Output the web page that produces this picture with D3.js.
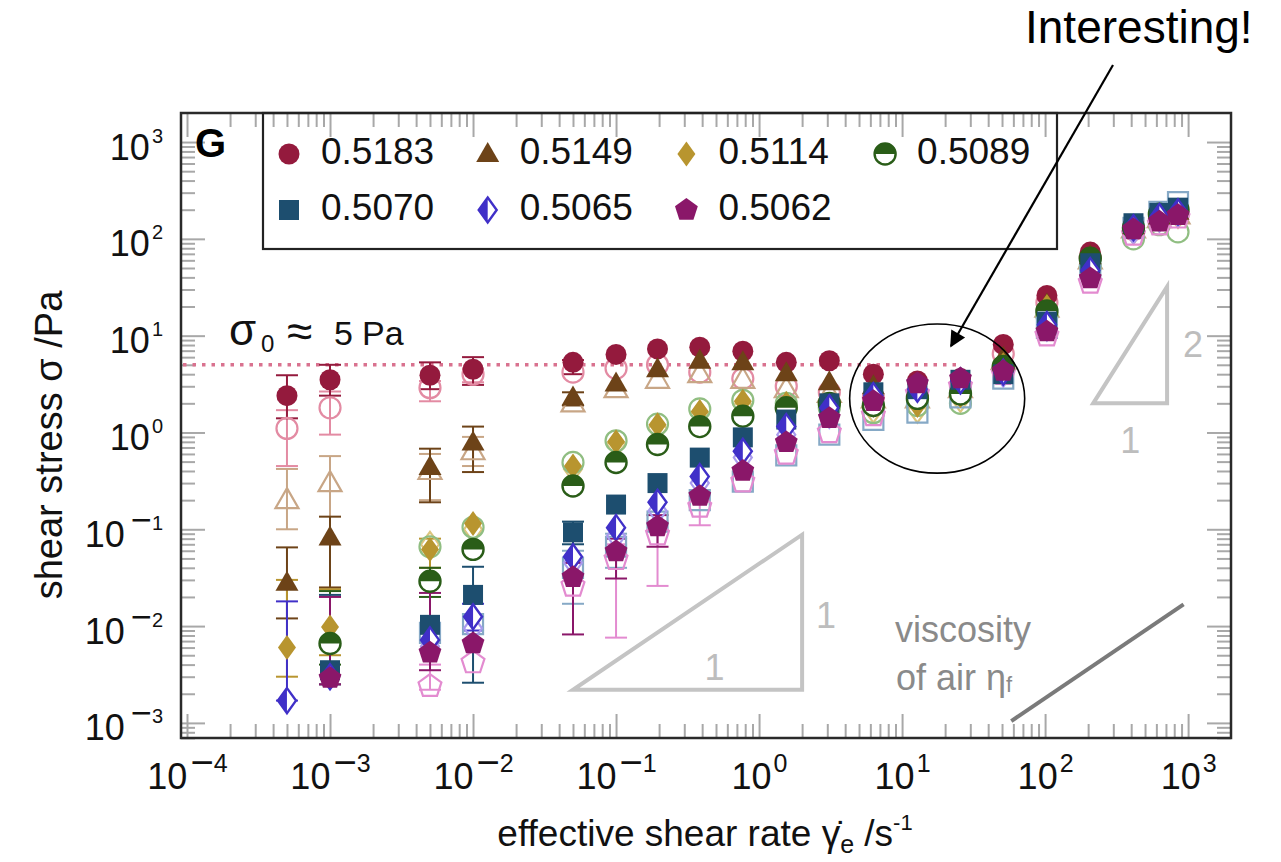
<!DOCTYPE html>
<html>
<head>
<meta charset="utf-8">
<script src="https://cdn.jsdelivr.net/npm/d3@7"></script>
<style>
  body { margin: 0; background: #fff; }
  svg text { font-family: "Liberation Sans", Arial, Helvetica, sans-serif; }
</style>
</head>
<body>
<svg id="chart" width="1281" height="862"></svg>
<script>
// shear rates (1/s) of the measurement columns
var rates = [0.0005, 0.001, 0.005, 0.01, 0.05, 0.1, 0.195, 0.385, 0.77, 1.55,
             3.1, 6.3, 12.8, 25.6, 51, 103, 207, 415, 630, 850];

// volume fractions
var phis = ["0.5183", "0.5149", "0.5114", "0.5089", "0.5070", "0.5065", "0.5062"];

// shear stress (Pa), filled symbols / open symbols
var s5183     = [2.4, 3.5, 3.9, 4.5, 5.3, 6.4, 7.3, 7.6, 6.9, 5.3, 5.5, 4.0, 3.4, 3.6, 8.1, 26, 73, 140, 175, 195];
var s5183open = [1.1, 1.8, 2.9, 4.0, 4.2, 4.6, 5.0, 4.2, 3.6, 3.0, 2.6, 2.3, 2.4, 3.0, 6.5, 22, 65, 125, 160, 180];
var s5149     = [0.028, 0.082, 0.44, 0.79, 2.3, 3.2, 4.5, 5.5, 5.3, 4.1, 3.3, 3.0, 2.9, 3.2, 5.9, 21, 66, 135, 170, 190];
var s5149open = [0.2, 0.3, 0.40, 0.64, 2.0, 2.8, 3.5, 4.0, 3.5, 2.8, 2.5, 2.2, 2.2, 2.8, 5.5, 19, 60, 125, 160, 175];
var s5114     = [0.006, 0.0098, 0.062, 0.115, 0.45, 0.8, 1.2, 1.65, 2.1, 2.0, 1.9, 1.9, 1.9, 2.4, 5.0, 20, 60, 130, 170, 185];
var s5114open = [null, null, 0.07, 0.1, 0.42, 0.75, 1.1, 1.55, 1.9, 1.85, 1.7, 1.7, 1.7, 2.2, 4.7, 18, 55, 120, 160, 175];
var s5089     = [null, 0.0066, 0.029, 0.062, 0.28, 0.49, 0.75, 1.15, 1.47, 1.8, 2.0, 1.9, 2.25, 2.5, 4.8, 18, 63, 130, 180, 200];
var s5089open = [null, null, 0.066, 0.105, 0.49, 0.82, 1.22, 1.75, 2.15, 2.0, 1.8, 1.6, 1.9, 2.0, 4.5, 16, 52, 100, 140, 118];
var s5070     = [null, 0.0035, 0.0103, 0.021, 0.093, 0.18, 0.3, 0.55, 0.89, 1.36, 2.0, 2.6, 2.8, 3.5, 4.0, 14, 56, 145, 185, 210];
var s5070open = [null, null, 0.0085, 0.0105, 0.04, 0.066, 0.12, 0.2, 0.31, 0.58, 0.95, 1.35, 1.6, 2.3, 3.6, 12, 50, 130, 190, 240];
var s5065     = [0.0017, 0.003, 0.0072, 0.0125, 0.052, 0.104, 0.19, 0.35, 0.64, 1.15, 1.8, 2.4, 2.8, 3.4, 4.2, 13, 47, 130, 170, 190];
var s5065open = [null, null, 0.0062, 0.0095, 0.045, 0.085, 0.155, 0.3, 0.55, 0.95, 1.5, 2.0, 2.4, 3.0, 4.0, 12, 45, 120, 160, 180];
var s5062     = [null, 0.0029, 0.0053, 0.0066, 0.032, 0.059, 0.107, 0.22, 0.4, 0.79, 1.4, 2.1, 3.2, 3.6, 4.3, 11, 39, 125, 150, 175];
var s5062open = [null, null, 0.0024, 0.0042, 0.026, 0.049, 0.088, 0.17, 0.31, 0.6, 1.0, 1.5, 2.5, 3.0, 4.0, 10, 35, 110, 140, 165];

// error bars: [rate, low, high]
var err5183     = [[0.0005, 1.4, 3.9], [0.001, 2.4, 5.0], [0.005, 2.8, 5.3], [0.01, 3.1, 6.0], [0.05, 4.0, 5.6]];
var err5183open = [[0.0005, 0.45, 1.7], [0.001, 0.95, 2.65], [0.005, 2.1, 3.4], [0.01, 3.3, 4.6]];
var err5149     = [[0.0005, 0.012, 0.065], [0.001, 0.025, 0.135], [0.005, 0.19, 0.68], [0.01, 0.39, 1.15], [0.05, 1.9, 2.6]];
var err5149open = [[0.0005, 0.1, 0.42], [0.001, 0.025, 0.57], [0.005, 0.2, 0.6], [0.01, 0.45, 0.9]];
var err5114     = [[0.0005, 0.003, 0.03], [0.001, 0.005, 0.024], [0.005, 0.04, 0.08]];
var err5089     = [[0.001, 0.004, 0.023], [0.005, 0.02, 0.04]];
var err5070     = [[0.001, 0.0025, 0.021], [0.01, 0.0026, 0.041], [0.05, 0.07, 0.12]];
var err5070open = [[0.05, 0.017, 0.06], [0.1, 0.04, 0.09]];
var err5065     = [[0.0005, 0.0017, 0.018], [0.01, 0.009, 0.017]];
var err5062     = [[0.001, 0.0025, 0.02], [0.005, 0.0035, 0.022], [0.05, 0.0082, 0.045], [0.1, 0.031, 0.08], [0.195, 0.066, 0.14]];
var err5062open = [[0.005, 0.0022, 0.004], [0.1, 0.0076, 0.07], [0.195, 0.026, 0.12], [0.385, 0.11, 0.22]];

var sigma0 = 5;          // yield stress plateau
var sigma0End = 25.6;    // dotted line stops here
var etaAir = 1.8e-5;     // viscosity of air, Pa s
var airRange = [58, 930];
var slope1 = [[0.05, 0.0022], [2.0, 0.0022], [2.0, 0.088]];
var slope2 = [[217, 2.0], [713, 2.0], [713, 32]];
var circled = [4.3, 72, 0.38, 13.2];   // rate lo, rate hi, stress lo, stress hi

var series = [
  {phi: phis[0], f: s5183, o: s5183open, ef: err5183, eo: err5183open, shape: "circle",      col: "#941a3d", light: "#e38ba3"},
  {phi: phis[1], f: s5149, o: s5149open, ef: err5149, eo: err5149open, shape: "triangle",    col: "#6d4318", light: "#c8a686"},
  {phi: phis[2], f: s5114, o: s5114open, ef: err5114, eo: [],          shape: "diamond",     col: "#b8952f", light: "#dcc57e"},
  {phi: phis[3], f: s5089, o: s5089open, ef: err5089, eo: [],          shape: "halfcircle",  col: "#2a5d18", light: "#90be82"},
  {phi: phis[4], f: s5070, o: s5070open, ef: err5070, eo: err5070open, shape: "square",      col: "#1d4e6f", light: "#86a9c6"},
  {phi: phis[5], f: s5065, o: s5065open, ef: err5065, eo: [],          shape: "halfdiamond", col: "#4030c8", light: "#a99bee"},
  {phi: phis[6], f: s5062, o: s5062open, ef: err5062, eo: err5062open, shape: "pentagon",    col: "#8a1769", light: "#e38bd0"}
];

var L = 181, R = 1231, T = 113, B = 738;
var x = d3.scaleLog().domain([Math.pow(10, -4.042), Math.pow(10, 3.30)]).range([L, R]);
var y = d3.scaleLog().domain([Math.pow(10, -3.156), Math.pow(10, 3.30)]).range([B, T]);

var svg = d3.select("#chart");

function isMajor(v) {
  var l = Math.log10(v);
  return Math.abs(l - Math.round(l)) < 1e-9;
}
function logTicks(scale) {
  var d = scale.domain(), t = [];
  for (var e = Math.floor(Math.log10(d[0])); e <= Math.ceil(Math.log10(d[1])); e++)
    for (var k = 1; k <= 9; k++) {
      var v = k * Math.pow(10, e);
      if (v >= d[0] && v <= d[1]) t.push(v);
    }
  return t;
}

// power-of-ten label with superscript
function powLabel(txt, exp, big) {
  var sup = big ? 25 : 20;
  txt.append("tspan").attr("font-size", 36).text("10");
  if (exp < 0) {
    txt.append("tspan").attr("font-size", big ? 40 : 36).attr("dx", big ? 3 : 6)
      .attr("dy", big ? -13 : -15).text("\u2212");
    txt.append("tspan").attr("font-size", sup).attr("dy", big ? -4 : -2).text(-exp);
  } else {
    txt.append("tspan").attr("font-size", sup).attr("dx", 2).attr("dy", -17).text(exp);
  }
}

function styleAxis(g, inward, dir) {
  g.attr("font-size", null).attr("font-family", null);
  g.select(".domain").remove();
  g.selectAll(".tick line")
    .attr("stroke", "#a8a8a8").attr("stroke-width", 2)
    .each(function(d) {
      var len = isMajor(d) ? 24 : 14;
      d3.select(this).attr(dir, inward * len);
    });
  g.selectAll(".tick text").remove();
}

var xt = logTicks(x), yt = logTicks(y);
var gB = svg.append("g").attr("transform", "translate(0," + B + ")")
  .call(d3.axisBottom(x).tickValues(xt).tickSizeOuter(0));
styleAxis(gB, -1, "y2");
var gT = svg.append("g").attr("transform", "translate(0," + T + ")")
  .call(d3.axisTop(x).tickValues(xt).tickSizeOuter(0));
styleAxis(gT, 1, "y2");
var gL = svg.append("g").attr("transform", "translate(" + L + ",0)")
  .call(d3.axisLeft(y).tickValues(yt).tickSizeOuter(0));
styleAxis(gL, 1, "x2");
var gR = svg.append("g").attr("transform", "translate(" + R + ",0)")
  .call(d3.axisRight(y).tickValues(yt).tickSizeOuter(0));
styleAxis(gR, -1, "x2");

gB.selectAll(".tick").filter(isMajor).append("text")
  .attr("y", 51).attr("text-anchor", "middle").attr("fill", "#111")
  .each(function(d) { powLabel(d3.select(this), Math.round(Math.log10(d)), true); });
gL.selectAll(".tick").filter(isMajor).append("text")
  .attr("x", -18).attr("y", 17).attr("text-anchor", "end").attr("fill", "#111")
  .each(function(d) { powLabel(d3.select(this), Math.round(Math.log10(d)), false); });

// frame
svg.append("rect").attr("x", L).attr("y", T).attr("width", R - L).attr("height", B - T)
  .attr("fill", "none").attr("stroke", "#2a2a2a").attr("stroke-width", 2.5);

// axis titles
var xl = svg.append("text").attr("x", 705).attr("y", 846).attr("text-anchor", "middle")
  .attr("font-size", 37).attr("fill", "#111");
xl.append("tspan").text("effective shear rate ");
xl.append("tspan").text("\u03b3\u0307");
xl.append("tspan").attr("font-size", 25).attr("dy", 7).text("e");
xl.append("tspan").attr("dy", -7).text(" /s");
xl.append("tspan").attr("font-size", 22).attr("dy", -16).text("-1");

svg.append("text").attr("transform", "translate(62,445) rotate(-90)")
  .attr("text-anchor", "middle").attr("font-size", 38).attr("fill", "#111")
  .text("shear stress \u03c3 /Pa");

svg.append("text").attr("x", 195).attr("y", 157).attr("font-size", 40)
  .attr("font-weight", "bold").attr("fill", "#000").text("G");

// legend
svg.append("rect").attr("x", 263).attr("y", T).attr("width", 794).attr("height", 136)
  .attr("fill", "none").attr("stroke", "#222").attr("stroke-width", 2.2);

// --- marker shapes
function shapePath(shape) {
  if (shape == "circle" || shape == "halfcircle") {
    var r = 10.5;
    return "M" + (-r) + ",0A" + r + "," + r + " 0 1,1 " + r + ",0A" + r + "," + r + " 0 1,1 " + (-r) + ",0Z";
  }
  if (shape == "square") return "M-10,-10H10V10H-10Z";
  if (shape == "triangle") return "M0,-12L11.5,8H-11.5Z";
  if (shape == "diamond" || shape == "halfdiamond") return "M0,-12.5L9,0L0,12.5L-9,0Z";
  if (shape == "pentagon") {
    var p = d3.range(5).map(function(k) {
      var a = -Math.PI / 2 + k * 2 * Math.PI / 5;
      return [12 * Math.cos(a), 12 * Math.sin(a)];
    });
    return "M" + p.join("L") + "Z";
  }
}

function drawMarker(g, s, open) {
  if (open) {
    g.append("path").attr("d", shapePath(s.shape)).attr("fill", "none")
      .attr("stroke", s.light).attr("stroke-width", 2.2);
    return;
  }
  if (s.shape == "halfcircle") {
    g.append("path").attr("d", shapePath(s.shape)).attr("fill", "#fff")
      .attr("stroke", s.col).attr("stroke-width", 2.4);
    g.append("path").attr("d", "M-10.5,0A10.5,10.5 0 0,1 10.5,0Z").attr("fill", s.col);
  } else if (s.shape == "halfdiamond") {
    g.append("path").attr("d", shapePath(s.shape)).attr("fill", "#fff")
      .attr("stroke", s.col).attr("stroke-width", 2.4);
    g.append("path").attr("d", "M0,-12.5L-9,0L0,12.5Z").attr("fill", s.col);
  } else {
    g.append("path").attr("d", shapePath(s.shape)).attr("fill", s.col);
  }
}

// legend entries
series.forEach(function(s, i) {
  var col = i < 4 ? i : i - 4, row = i < 4 ? 0 : 1;
  var lx = 289 + col * 198.7, ly = 154 + row * 56;
  var g = svg.append("g").attr("transform", "translate(" + lx + "," + ly + ")");
  drawMarker(g, s, false);
  svg.append("text").attr("x", lx + 32).attr("y", ly + 10).attr("font-size", 37)
    .attr("fill", "#111").text(s.phi);
});

// sigma_0 plateau
svg.append("line")
  .attr("x1", x(x.domain()[0]) + 2).attr("x2", x(sigma0End))
  .attr("y1", y(sigma0)).attr("y2", y(sigma0))
  .attr("stroke", "#d9728f").attr("stroke-width", 3.5).attr("stroke-dasharray", "3.5,6");

var st = svg.append("g").attr("fill", "#111");
st.append("text").attr("x", 229).attr("y", 345).attr("font-size", 44)
  .attr("font-family", "'DejaVu Serif', 'Liberation Serif', serif").text("\u03c3");
st.append("text").attr("x", 261).attr("y", 352).attr("font-size", 24).text("0");
st.append("text").attr("x", 287).attr("y", 347).attr("font-size", 46).text("\u2248");
st.append("text").attr("x", 334).attr("y", 345).attr("font-size", 34).text("5");
st.append("text").attr("x", 362).attr("y", 345).attr("font-size", 34).text("Pa");

// slope triangles
var tri = d3.line().x(function(d) { return x(d[0]); }).y(function(d) { return y(d[1]); });
[slope1, slope2].forEach(function(t) {
  svg.append("path").attr("d", tri(t) + "Z").attr("fill", "none")
    .attr("stroke", "#c4c4c4").attr("stroke-width", 4);
});
var gray = svg.append("g").attr("fill", "#bdbdbd").attr("font-size", 36).attr("text-anchor", "middle");
gray.append("text").attr("x", (x(slope1[0][0]) + x(slope1[1][0])) / 2 + 27).attr("y", y(slope1[0][1]) - 10).text("1");
gray.append("text").attr("x", x(slope1[2][0]) + 24).attr("y", (y(slope1[1][1]) + y(slope1[2][1])) / 2 + 16).text("1");
gray.append("text").attr("x", x(slope2[2][0]) + 26).attr("y", (y(slope2[1][1]) + y(slope2[2][1])) / 2 + 12).text("2");
gray.append("text").attr("x", (x(slope2[0][0]) + x(slope2[1][0])) / 2).attr("y", y(slope2[0][1]) + 50).text("1");

// viscosity of air
svg.append("line")
  .attr("x1", x(airRange[0])).attr("y1", y(etaAir * airRange[0]))
  .attr("x2", x(airRange[1])).attr("y2", y(etaAir * airRange[1]))
  .attr("stroke", "#7a7a7a").attr("stroke-width", 4);
var va = svg.append("g").attr("fill", "#8a8a8a").attr("font-size", 36);
va.append("text").attr("x", 895).attr("y", 642).text("viscosity");
var va2 = va.append("text").attr("x", 896).attr("y", 690);
va2.append("tspan").text("of air \u03b7");
va2.append("tspan").attr("font-size", 22).attr("dy", 2).text("f");

// error bars
function drawErr(list, color) {
  list.forEach(function(e) {
    var g = svg.append("g").attr("stroke", color).attr("stroke-width", 2);
    var cx = x(e[0]);
    g.append("line").attr("x1", cx).attr("x2", cx).attr("y1", y(e[1])).attr("y2", y(e[2]));
    g.append("line").attr("x1", cx - 11).attr("x2", cx + 11).attr("y1", y(e[1])).attr("y2", y(e[1]));
    g.append("line").attr("x1", cx - 11).attr("x2", cx + 11).attr("y1", y(e[2])).attr("y2", y(e[2]));
  });
}
series.forEach(function(s) { drawErr(s.eo, s.light); });
series.forEach(function(s) { drawErr(s.ef, s.col); });

// open symbols underneath, filled on top
series.forEach(function(s) {
  s.o.forEach(function(v, i) {
    if (v == null) return;
    var g = svg.append("g").attr("transform", "translate(" + x(rates[i]) + "," + y(v) + ")");
    drawMarker(g, s, true);
  });
});
series.forEach(function(s) {
  s.f.forEach(function(v, i) {
    if (v == null) return;
    var g = svg.append("g").attr("transform", "translate(" + x(rates[i]) + "," + y(v) + ")");
    drawMarker(g, s, false);
  });
});

// annotation
var ex0 = x(circled[0]), ex1 = x(circled[1]), ey0 = y(circled[3]), ey1 = y(circled[2]);
svg.append("ellipse").attr("cx", (ex0 + ex1) / 2).attr("cy", (ey0 + ey1) / 2)
  .attr("rx", (ex1 - ex0) / 2).attr("ry", (ey1 - ey0) / 2)
  .attr("fill", "none").attr("stroke", "#000").attr("stroke-width", 1.6);

svg.append("defs").append("marker").attr("id", "head")
  .attr("viewBox", "0 0 10 10").attr("refX", 9).attr("refY", 5)
  .attr("markerUnits", "userSpaceOnUse").attr("markerWidth", 20).attr("markerHeight", 16)
  .attr("orient", "auto")
  .append("path").attr("d", "M0,0L10,5L0,10Z").attr("fill", "#000");
svg.append("line").attr("x1", 1113).attr("y1", 65).attr("x2", 951).attr("y2", 346)
  .attr("stroke", "#000").attr("stroke-width", 2.2).attr("marker-end", "url(#head)");

svg.append("text").attr("x", 1025).attr("y", 43).attr("font-size", 46)
  .attr("fill", "#000").text("Interesting!");
</script>
</body>
</html>
